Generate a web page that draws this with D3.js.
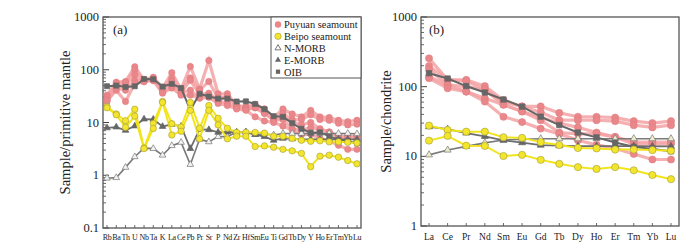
<!DOCTYPE html>
<meta charset="utf-8">
<script src="https://cdn.jsdelivr.net/npm/d3@7/dist/d3.min.js"></script>
<style>
  body { margin: 0; background: #fff; }
  text { font-family: "Liberation Serif", "Times New Roman", serif; fill: #222; }
</style>
<div id="chart"></div>
<script>

// element orders
var elemsA = ["Rb","Ba","Th","U","Nb","Ta","K","La","Ce","Pb","Pr","Sr","P","Nd","Zr","Hf","Sm","Eu","Ti","Gd","Tb","Dy","Y","Ho","Er","Tm","Yb","Lu"];
var elemsB = ["La","Ce","Pr","Nd","Sm","Eu","Gd","Tb","Dy","Ho","Er","Tm","Yb","Lu"];

// (a) primitive mantle normalised
var puyuanA = [
  [33,58,60,114,65,72,45,88,43,115,43,150,35,35,21,20,22,18,12.5,18,14.5,12.8,17,12.8,12.4,11,10.4,11],
  [30,55,57,100,63,69,42,68,43,70,41,60,29,31,21,19,20.7,18,12,14.8,11.4,11.4,14,11.4,11,9.7,9,9.3],
  [27,50,50,80,60,66,40,61,37,63,34,36,26,31,20,18,19,15,11.4,12.4,10.4,9,10,7.6,6.6,5.2,5.2,5.2],
  [25,45,41,62,62,62,38,48,37,41,29,33,25,23.5,19,17.6,19,15,11,11.4,7.6,7.2,8,7.2,6.6,5.5,5.5,5.5],
  [26,41,25,55,59,64,36,45,33,33,29,30,23,21,18,17,12.8,10.7,10,8.6,7.2,5.9,6,5,4.5,3.7,3.1,3.1]
];
var beipoA = [
  [20,14.5,10.8,17.8,3.3,9.6,25,9.5,8.2,24,7.8,21,12,7.8,6.5,6.5,6.5,6.3,5.5,5.5,5.0,4.6,4.4,4.5,4.3,4.3,4.2,4.1],
  [19,14,8.1,13.2,3.2,7.7,24,5.8,6.8,17,4.9,17,9,4.9,5.5,5.5,3.5,3.6,3.4,3.1,2.9,2.6,1.45,2.3,2.4,2.2,1.9,1.65]
];
var nmorbA = [0.88,0.9,1.41,2.24,3.27,3.2,2.4,3.64,4.2,1.6,4.8,4.3,5.4,5.4,6.6,6.6,5.9,6.1,5.8,6.2,6.2,6.2,6.2,6.2,6.2,6.2,6.2,6.1];
var emorbA = [7.9,8.2,7.1,8.6,11.6,11.5,8.4,9.2,8.5,3.2,7.4,7.3,6.5,6.6,6.5,6.6,5.9,5.4,4.6,5.0,4.9,4.8,4.8,4.8,4.8,4.8,4.8,4.8];
var oibA   = [48.8,50,47,48.6,67,66,48,54,45,17.3,35,31,28.4,28.4,25,25.2,22.5,17.9,13.2,12.8,9.7,7.6,6.4,6.5,5.5,4.7,4.4,4.05];

// (b) chondrite normalised
var puyuanB = [
  [255,125,125,102,64,52,52,42,37,37,36,32,30,32],
  [198,125,120,90,60,52,43,33,33,33,32,28,26,28],
  [178,106,100,90,55,44,36,30,26,22,19,15,15,15],
  [139,106,85,68,55,44,33,22,21,21,19,16,16,16],
  [132,95,85,61,37,31,25,21,17,14.6,13,10.8,9,9]
];
var beipoB = [
  [27.6,23.9,22.6,22.6,18.8,18.4,16,14.5,13.2,13,12.5,12.5,12.3,12],
  [16.8,19.6,14.2,14.1,10.1,10.5,8.9,7.8,7.0,6.6,7.0,6.3,5.4,4.7]
];
var nmorbB = [10.5,12.3,13.9,15.6,17.2,17.6,17.9,17.9,17.9,17.9,17.9,17.9,17.9,17.9];
var emorbB = [26.6,24.5,21.6,19.3,17.0,15.7,14.5,14.2,14.0,14.0,14.0,14.0,13.9,13.9];
var oibB   = [156,131,102,82.4,65.4,51.7,37.1,28.1,22.0,18.7,15.8,13.7,12.7,11.8];

var legendNames = ["Puyuan seamount","Beipo seamount","N-MORB","E-MORB","OIB"];
var yTicksA = [0.1,1,10,100,1000];
var yTicksB = [1,10,100,1000];

var pinkLine = "#f3a2a4", pinkDot = "#e9878a";
var yelLine = "#f2e41a", yelDot = "#f3e52c";

var svg = d3.select("#chart").append("svg")
  .attr("width", 699).attr("height", 251);

function panel(opt) {
  var g = svg.append("g").attr("transform", "translate(" + opt.left + "," + opt.top + ")");
  var w = opt.width, h = opt.height;

  var x = d3.scalePoint().domain(opt.elems).range([opt.inset, w - opt.inset]);
  var y = d3.scaleLog().domain(opt.ydom).range([h, 0]);

  // minor + major ticks (inward)
  var lo = Math.log10(opt.ydom[0]), hi = Math.log10(opt.ydom[1]);
  var minors = [];
  for (var e = lo; e < hi; e++) for (var m = 2; m < 10; m++) minors.push(m * Math.pow(10, e));
  g.selectAll(".mt").data(minors).enter().append("line")
    .attr("x1", 0).attr("x2", 3).attr("y1", d => y(d)).attr("y2", d => y(d))
    .attr("stroke", "#444").attr("stroke-width", 0.8);
  g.selectAll(".Mt").data(opt.yticks).enter().append("line")
    .attr("x1", 0).attr("x2", 6).attr("y1", d => y(d)).attr("y2", d => y(d))
    .attr("stroke", "#444").attr("stroke-width", 1);
  g.selectAll(".yl").data(opt.yticks).enter().append("text")
    .attr("x", -4).attr("y", d => y(d) + 4)
    .attr("text-anchor", "end").attr("font-size", 12.5)
    .text(d => d);

  g.selectAll(".xt").data(opt.elems).enter().append("line")
    .attr("x1", d => x(d)).attr("x2", d => x(d)).attr("y1", h).attr("y2", h - 3)
    .attr("stroke", "#444").attr("stroke-width", 0.8);
  g.selectAll(".xl").data(opt.elems).enter().append("text")
    .attr("x", d => x(d)).attr("y", h + opt.xlabDy)
    .attr("text-anchor", "middle").attr("font-size", opt.xfont)
    .attr("letter-spacing", opt.xls)
    .text(d => d);

  // frame
  g.append("rect").attr("width", w).attr("height", h)
    .attr("fill", "none").attr("stroke", "#555").attr("stroke-width", 1.3);

  g.append("text").attr("transform", "translate(" + opt.ylabX + "," + (h / 2) + ") rotate(-90)")
    .attr("text-anchor", "middle").attr("font-size", 14.5).text(opt.ylabel);
  g.append("text").attr("x", opt.tagX).attr("y", 17).attr("font-size", 13).text(opt.tag);

  var line = d3.line().x((d, i) => x(opt.elems[i])).y(d => y(d));

  // Puyuan
  opt.puyuan.forEach(function(s) {
    g.append("path").datum(s).attr("d", line).attr("fill", "none")
      .attr("stroke", pinkLine).attr("stroke-width", 3.2).attr("opacity", 0.85);
  });
  opt.puyuan.forEach(function(s) {
    g.selectAll(null).data(s).enter().append("circle")
      .attr("cx", (d, i) => x(opt.elems[i])).attr("cy", d => y(d)).attr("r", opt.r)
      .attr("fill", pinkDot).attr("stroke", "#de7c80").attr("stroke-width", 0.5);
  });

  // reference curves
  var tri = d3.symbol().type(d3.symbolTriangle).size(opt.r * 6);
  var sq = d3.symbol().type(d3.symbolSquare).size(opt.r * 8);
  function ref(vals, col, sw, sym, fill, stroke) {
    g.append("path").datum(vals).attr("d", line).attr("fill", "none")
      .attr("stroke", col).attr("stroke-width", sw);
    g.selectAll(null).data(vals).enter().append("path")
      .attr("d", sym)
      .attr("transform", (d, i) => "translate(" + x(opt.elems[i]) + "," + y(d) + ")")
      .attr("fill", fill).attr("stroke", stroke).attr("stroke-width", 0.7);
  }
  ref(opt.nmorb, "#7a7a7a", 1.6, tri, opt.nFill, "#777");
  ref(opt.emorb, "#6e6e6e", 1.8, tri, "#666", "#666");
  ref(opt.oib, "#666666", 2, sq, "#666", "#666");

  // Beipo
  opt.beipo.forEach(function(s) {
    g.append("path").datum(s).attr("d", line).attr("fill", "none")
      .attr("stroke", yelLine).attr("stroke-width", 2);
  });
  opt.beipo.forEach(function(s) {
    g.selectAll(null).data(s).enter().append("circle")
      .attr("cx", (d, i) => x(opt.elems[i])).attr("cy", d => y(d)).attr("r", opt.r)
      .attr("fill", yelDot).attr("stroke", "#a39c3c").attr("stroke-width", 0.6);
  });
  return g;
}

var ga = panel({
  left: 103, top: 17, width: 258, height: 211, inset: 4,
  elems: elemsA, ydom: [0.1, 1000], yticks: yTicksA,
  xfont: 8, xls: -0.4, xlabDy: 12, ylabX: -33, ylabel: "Sample/primitive mantle",
  tag: "(a)", tagX: 10, r: 3.2, nFill: "#f2f2f2",
  puyuan: puyuanA, beipo: beipoA, nmorb: nmorbA, emorb: emorbA, oib: oibA
});

panel({
  left: 421, top: 17, width: 258, height: 209, inset: 8,
  elems: elemsB, ydom: [1, 1000], yticks: yTicksB,
  xfont: 9.5, xls: 0, xlabDy: 14, ylabX: -30, ylabel: "Sample/chondrite",
  tag: "(b)", tagX: 8, r: 3.6, nFill: "#eeeccb",
  puyuan: puyuanB, beipo: beipoB, nmorb: nmorbB, emorb: emorbB, oib: oibB
});

// legend in panel (a)
var lg = ga.append("g").attr("transform", "translate(168,0)");
lg.append("rect").attr("width", 90).attr("height", 61)
  .attr("fill", "#fff").attr("stroke", "#555").attr("stroke-width", 1);
legendNames.forEach(function(name, i) {
  var cy = 7.5 + i * 11.8;
  var item = lg.append("g").attr("transform", "translate(7," + cy + ")");
  if (i == 0) item.append("circle").attr("r", 3.2).attr("fill", pinkDot);
  if (i == 1) item.append("circle").attr("r", 3.2).attr("fill", yelDot).attr("stroke", "#a39c3c").attr("stroke-width", 0.6);
  if (i == 2) item.append("path").attr("d", d3.symbol().type(d3.symbolTriangle).size(16)).attr("fill", "#fff").attr("stroke", "#777");
  if (i == 3) item.append("path").attr("d", d3.symbol().type(d3.symbolTriangle).size(16)).attr("fill", "#666");
  if (i == 4) item.append("path").attr("d", d3.symbol().type(d3.symbolSquare).size(18)).attr("fill", "#666");
  item.append("text").attr("x", 6).attr("y", 3.8).attr("font-size", 10.4).text(name);
});

</script>
